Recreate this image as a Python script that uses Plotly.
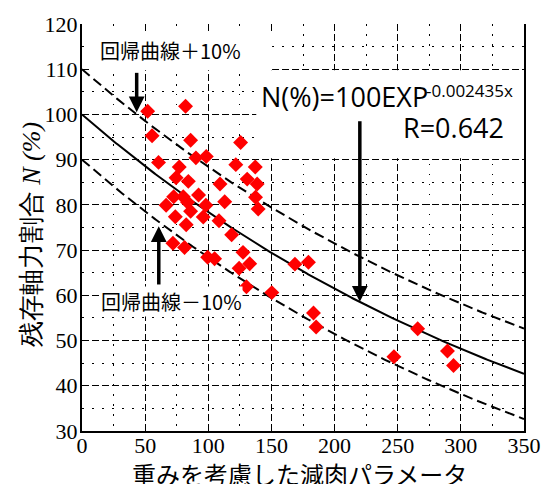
import numpy as np
import plotly.graph_objects as go

# ---- data ----
x_data = [52, 82, 55.5, 86, 125.6, 60.6, 90.2, 98.4, 121.8, 137.2, 77, 74.5, 84.2,
          109.3, 130.8, 138.7, 72.6, 80.2, 92.3, 137.4, 66.6, 83.6, 86, 98.1, 113,
          139.5, 96, 73.9, 108.5, 82.5, 118.5, 72, 81.2, 99.5, 105, 127.5, 124.4,
          132.8, 130.2, 150.3, 168.6, 179.3, 183.3, 185.4, 247, 265.8, 289.4, 294.2]
y_data = [100.7, 101.8, 95.3, 94.3, 93.8, 89.4, 90.4, 90.7, 88.9, 88.4, 88.4, 86, 85.2,
          84.6, 85.7, 84.6, 81.8, 81.8, 82.2, 81.7, 79.9, 80.6, 78.6, 79.9, 80.7,
          79.1, 77.3, 77.4, 76.5, 75.6, 73.4, 71.5, 70.6, 68.4, 68.1, 69.5, 66,
          67, 61.9, 60.6, 66.9, 67.3, 56.1, 53, 46.4, 52.6, 47.7, 44.5]

# regression N(%) = 100 EXP(-0.002435x), band +/-10
reg_a = 100
reg_b = 0.002435
band = 10
x_range = [0, 350]
y_range = [30, 120]

x_title = "重みを考慮した減肉パラメータ"
y_title = "残存軸力割合 <i>N (%)</i>"
label_plus = "回帰曲線＋10%"
label_minus = "回帰曲線－10%"
eq_main = "N(%)=100EXP"
eq_sup = "-0.002435x"
r_text = "R=0.642"

# arrows: (x, tail y, head y)
arrows = [(43.3, 109.2, 100.5), (60.8, 62.4, 75.3), (220, 98.5, 58.6)]

x_line = np.linspace(0, 350, 300)
y_reg = reg_a * np.exp(-reg_b * x_line)

fig = go.Figure()
fig.add_trace(go.Scatter(x=x_line, y=y_reg + band, mode="lines",
                         line=dict(color="black", width=2, dash="10px,5px"), hoverinfo="skip"))
fig.add_trace(go.Scatter(x=x_line, y=y_reg - band, mode="lines",
                         line=dict(color="black", width=2, dash="10px,5px"), hoverinfo="skip"))
fig.add_trace(go.Scatter(x=x_line, y=y_reg, mode="lines",
                         line=dict(color="black", width=2), hoverinfo="skip"))
fig.add_trace(go.Scatter(x=x_data, y=y_data, mode="markers",
                         marker=dict(symbol="diamond", size=11.5, color="#ff0000",
                                     line=dict(width=0))))

tick_font = dict(family="Liberation Serif", size=22, color="black")

fig.update_xaxes(range=x_range, tickmode="linear", tick0=0, dtick=50,
                 showgrid=True, gridcolor="black", gridwidth=1, griddash="7px,3px",
                 minor=dict(tickmode="linear", tick0=0, dtick=25, showgrid=True,
                            gridcolor="black", gridwidth=1, griddash="1.5px,8.5px", ticks=""),
                 showline=True, linecolor="black", linewidth=2, mirror=False,
                 ticks="", zeroline=False, ticklabelstandoff=-6, tickfont=tick_font,
                 fixedrange=True)
fig.update_yaxes(range=y_range, tickmode="linear", tick0=30, dtick=10,
                 showgrid=True, gridcolor="black", gridwidth=1, griddash="7px,3px",
                 minor=dict(tickmode="linear", tick0=30, dtick=5, showgrid=True,
                            gridcolor="black", gridwidth=1, griddash="1.5px,8.5px", ticks=""),
                 showline=True, linecolor="black", linewidth=2, mirror=True,
                 ticks="", zeroline=False, ticklabelstandoff=-2, tickfont=tick_font,
                 fixedrange=True)

# white boxes behind the labels
fig.add_shape(type="rect", xref="x", yref="y", x0=6.3, x1=150.5, y0=109.8, y1=117.8,
              fillcolor="white", line=dict(width=0), layer="above")
fig.add_shape(type="rect", xref="x", yref="y", x0=138, x1=352, y0=90.3, y1=109.8,
              fillcolor="white", line=dict(width=0), layer="above")

# arrow shafts
for ax_, y_tail, y_head in arrows:
    sgn = 1 if y_head > y_tail else -1
    fig.add_shape(type="line", xref="x", yref="y", x0=ax_, x1=ax_, y0=y_tail,
                  y1=y_head - sgn * 1.5, line=dict(color="black", width=3.5), layer="above")

text_font = dict(family="Noto Sans CJK JP", size=20, color="black")
eq_font = dict(family="Open Sans", size=27, color="black")

annotations = [
    dict(x=70, y=114.1, xref="x", yref="y", text=label_plus, showarrow=False,
         font=text_font, xanchor="center", yanchor="middle"),
    dict(x=70.6, y=58.7, xref="x", yref="y", text=label_minus, showarrow=False,
         font=text_font, xanchor="center", yanchor="middle", bgcolor="white", borderpad=0),
    dict(x=140.5, y=104.0, xref="x", yref="y", text=eq_main, showarrow=False,
         font=eq_font, xanchor="left", yanchor="middle"),
    dict(x=270.5, y=105.3, xref="x", yref="y", text=eq_sup, showarrow=False,
         font=dict(family="Open Sans", size=17, color="black"), xanchor="left", yanchor="middle"),
    dict(x=252.5, y=97.2, xref="x", yref="y", text=r_text, showarrow=False,
         font=eq_font, xanchor="left", yanchor="middle"),
    # axis titles
    dict(x=(301 - 82) / 445, y=(431 - 474) / 411, xref="paper", yref="paper",
         text=x_title, showarrow=False, xanchor="center", yanchor="middle",
         font=dict(family="Noto Sans CJK JP", size=24, color="black")),
    dict(x=(32 - 82) / 445, y=(431 - 233) / 411, xref="paper", yref="paper",
         text=y_title, showarrow=False, xanchor="center", yanchor="middle", textangle=-90,
         font=dict(family="Liberation Serif", size=26, color="black")),
]
# arrow heads
for ax_, y_tail, y_head in arrows:
    sgn = 1 if y_head > y_tail else -1
    annotations.append(dict(x=ax_, y=y_head, ax=0, ay=sgn * 14, xref="x", yref="y",
                            text="", font=dict(size=1), showarrow=True, arrowhead=2,
                            arrowsize=0.9, arrowwidth=3.5, arrowcolor="black"))
fig.update_layout(annotations=annotations)

fig.update_layout(width=553, height=484, margin=dict(l=82, r=26, t=20, b=53),
                  paper_bgcolor="white", plot_bgcolor="white", showlegend=False)

fig.write_html("out.html")
